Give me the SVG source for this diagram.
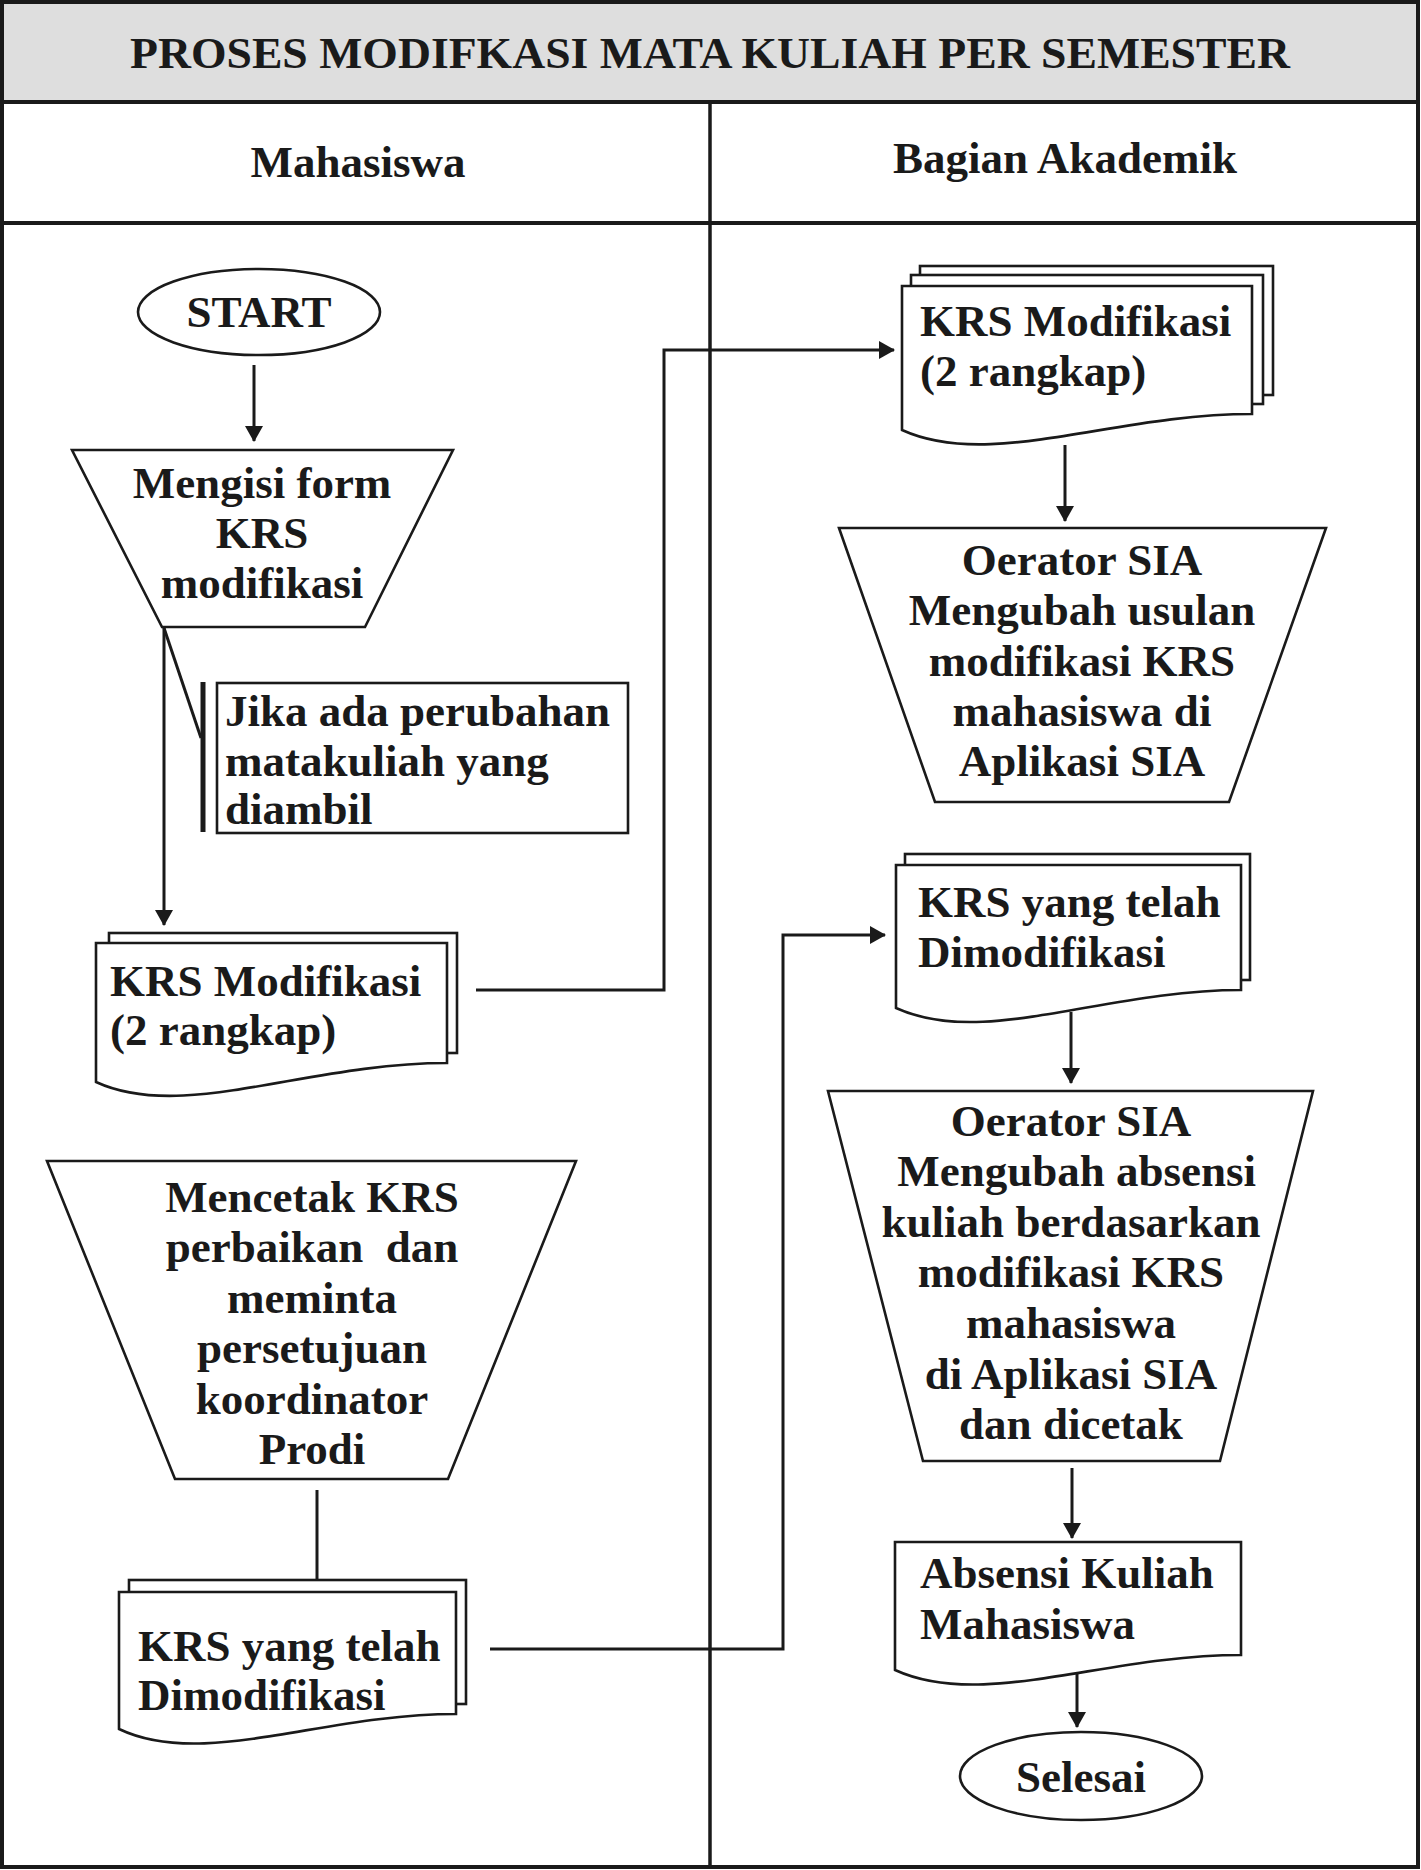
<svg xmlns="http://www.w3.org/2000/svg" width="1421" height="1870" viewBox="0 0 1421 1870">
<style>
.t{font-family:"Liberation Serif","Times New Roman",serif;font-weight:bold;font-size:45px;fill:#1a1a1a}
.c{text-anchor:middle}
.s{fill:#fff;stroke:#1a1a1a;stroke-width:2.6}
.ln{fill:none;stroke:#1a1a1a;stroke-width:3}
</style>
<defs>
<marker id="ah" markerUnits="userSpaceOnUse" markerWidth="16" markerHeight="18" refX="15" refY="9" orient="auto">
<path d="M0,0 L16,9 L0,18 z" fill="#1a1a1a"/>
</marker>
</defs>
<rect x="0" y="0" width="1421" height="1870" fill="#fff"/>
<g id="frame">
<rect x="2" y="2" width="1416" height="99" fill="#dedede"/>
<rect x="2" y="2" width="1416" height="1865" fill="none" stroke="#1a1a1a" stroke-width="4"/>
<line x1="2" y1="102" x2="1418" y2="102" stroke="#1a1a1a" stroke-width="4"/>
<line x1="2" y1="223" x2="1418" y2="223" stroke="#1a1a1a" stroke-width="4"/>
<line x1="710" y1="102" x2="710" y2="1867" stroke="#1a1a1a" stroke-width="3.5"/>
<text class="t c" x="710" y="68" font-size="46" textLength="1160" lengthAdjust="spacingAndGlyphs">PROSES MODIFKASI MATA KULIAH PER SEMESTER</text>
<text class="t c" x="358" y="177">Mahasiswa</text>
<text class="t c" x="1065" y="173">Bagian Akademik</text>
</g>
<g id="connectors">
<path class="ln" d="M254,365 V441" marker-end="url(#ah)"/>
<path class="ln" d="M164,627 V925" marker-end="url(#ah)"/>
<path class="ln" d="M164,628 L201,738"/>
<path class="ln" d="M476,990 H664 V350 H894" marker-end="url(#ah)"/>
<path class="ln" d="M1065,445 V521" marker-end="url(#ah)"/>
<path class="ln" d="M317,1490 V1580"/>
<path class="ln" d="M490,1649 H783 V935 H885" marker-end="url(#ah)"/>
<path class="ln" d="M1071,1012 V1083" marker-end="url(#ah)"/>
<path class="ln" d="M1072,1468 V1538" marker-end="url(#ah)"/>
<path class="ln" d="M1077,1673 V1727" marker-end="url(#ah)"/>
</g>
<g id="start">
<ellipse class="s" cx="259" cy="312" rx="121" ry="43"/>
<text class="t c" x="259" y="327">START</text>
</g>
<g id="mengisi">
<path class="s" d="M72,450 H453 L365,627 H162 Z"/>
<text class="t c" x="262" y="498">Mengisi form</text>
<text class="t c" x="262" y="548">KRS</text>
<text class="t c" x="262" y="598">modifikasi</text>
</g>
<g id="annotation">
<line x1="203" y1="682" x2="203" y2="832" stroke="#1a1a1a" stroke-width="5"/>
<rect class="s" x="217" y="683" width="411" height="150"/>
<text class="t" x="225" y="726">Jika ada perubahan</text>
<text class="t" x="225" y="776">matakuliah yang</text>
<text class="t" x="225" y="824">diambil</text>
</g>
<g id="krs-mod-left">
<rect class="s" x="109" y="933" width="348" height="120"/>
<path class="s" d="M96,943 H447 V1063 C306,1063 183,1122 96,1082 Z"/>
<text class="t" x="110" y="996">KRS Modifikasi</text>
<text class="t" x="110" y="1045">(2 rangkap)</text>
</g>
<g id="mencetak">
<path class="s" d="M47,1161 H576 L448,1479 H175 Z"/>
<text class="t c" x="312" y="1212">Mencetak KRS</text>
<text class="t c" x="312" y="1262" xml:space="preserve">perbaikan  dan</text>
<text class="t c" x="312" y="1313">meminta</text>
<text class="t c" x="312" y="1363">persetujuan</text>
<text class="t c" x="312" y="1414">koordinator</text>
<text class="t c" x="312" y="1464">Prodi</text>
</g>
<g id="krs-telah-left">
<rect class="s" x="129" y="1580" width="337" height="124"/>
<path class="s" d="M119,1592 H456 V1714 C321,1714 203,1769 119,1729 Z"/>
<text class="t" x="138" y="1661">KRS yang telah</text>
<text class="t" x="138" y="1710">Dimodifikasi</text>
</g>
<g id="krs-mod-right">
<rect class="s" x="920" y="266" width="353" height="129"/>
<rect class="s" x="911" y="275" width="352" height="129"/>
<path class="s" d="M902,286 H1252 V414 C1112,414 990,470 902,430 Z"/>
<text class="t" x="920" y="336">KRS Modifikasi</text>
<text class="t" x="920" y="386">(2 rangkap)</text>
</g>
<g id="operator1">
<path class="s" d="M839,528 H1326 L1229,802 H935 Z"/>
<text class="t c" x="1082" y="575">Oerator SIA</text>
<text class="t c" x="1082" y="625">Mengubah usulan</text>
<text class="t c" x="1082" y="676">modifikasi KRS</text>
<text class="t c" x="1082" y="726">mahasiswa di</text>
<text class="t c" x="1082" y="776">Aplikasi SIA</text>
</g>
<g id="krs-telah-right">
<rect class="s" x="905" y="854" width="345" height="126"/>
<path class="s" d="M896,865 H1241 V990 C1103,990 983,1048 896,1008 Z"/>
<text class="t" x="918" y="917">KRS yang telah</text>
<text class="t" x="918" y="967">Dimodifikasi</text>
</g>
<g id="operator2">
<path class="s" d="M828,1091 H1313 L1220,1461 H923 Z"/>
<text class="t c" x="1071" y="1136">Oerator SIA</text>
<text class="t c" x="1071" y="1186" xml:space="preserve"> Mengubah absensi</text>
<text class="t c" x="1071" y="1237">kuliah berdasarkan</text>
<text class="t c" x="1071" y="1287">modifikasi KRS</text>
<text class="t c" x="1071" y="1338">mahasiswa</text>
<text class="t c" x="1071" y="1389">di Aplikasi SIA</text>
<text class="t c" x="1071" y="1439">dan dicetak</text>
</g>
<g id="absensi">
<path class="s" d="M895,1542 H1241 V1655 C1103,1655 983,1710 895,1670 Z"/>
<text class="t" x="920" y="1588">Absensi Kuliah</text>
<text class="t" x="920" y="1639">Mahasiswa</text>
</g>
<g id="selesai">
<ellipse class="s" cx="1081" cy="1776" rx="121" ry="44"/>
<text class="t c" x="1081" y="1792">Selesai</text>
</g>
</svg>
